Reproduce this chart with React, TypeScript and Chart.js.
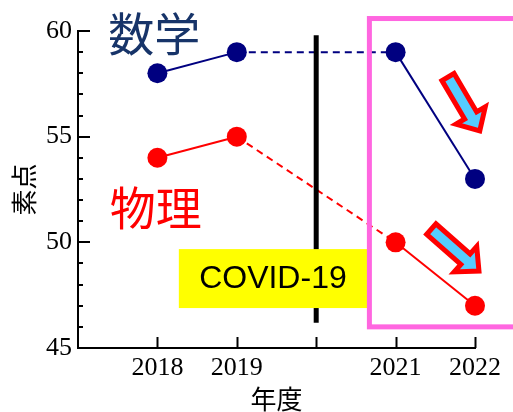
import React, { useEffect, useRef } from "react";
import { Chart, registerables } from "chart.js";

Chart.register(...registerables);

// ---- data ----
const years = [2018, 2019, 2021, 2022];
const mathScores = [58, 59, 59, 53];
const physicsScores = [54, 55, 50, 47];
const xTickYears = [2018, 2019, 2020, 2021, 2022];
const hiddenTickYears = [2017, 2020];
const yRange = [45, 60];

const mathLabel = "数学";
const physicsLabel = "物理";
const covidLabel = "COVID-19";
const xTitle = "年度";
const yTitle = "素点";

// annotation anchors in data units
const mathLabelPos = [2017.96, 59.86];
const physicsLabelPos = [2017.98, 51.67];
const covidBox = [2018.27, 49.68, 2020.64, 46.89];
const covidLine = [2020, 59.8, 46.2];
const pinkBox = [2020.67, 60.59, 2023, 46.0];
const arrows = [
  [2021.66, 57.82, 2022.06, 55.27],
  [2021.45, 50.63, 2022.05, 48.64],
];

const NAVY = "#000080";
const RED = "#ff0000";

const decorPlugin = {
  id: "decor",
  afterDatasetsDraw(chart: any) {
    const { ctx, scales } = chart;
    const xs = scales.x;
    const ys = scales.y;
    const px = (v: number) => xs.getPixelForValue(v);
    const py = (v: number) => ys.getPixelForValue(v);
    ctx.save();

    // inward tick marks
    ctx.strokeStyle = "#000";
    ctx.lineWidth = 2;
    const ax = xs.left;
    for (let v = yRange[0]; v <= yRange[1]; v++) {
      const len = v % 5 === 0 ? 12 : 5;
      const y = Math.round(py(v));
      ctx.beginPath();
      ctx.moveTo(ax, y);
      ctx.lineTo(ax + len, y);
      ctx.stroke();
    }
    const ay = ys.bottom;
    xTickYears.forEach((v) => {
      const x = Math.round(px(v)) + 0.5;
      ctx.beginPath();
      ctx.moveTo(x, ay);
      ctx.lineTo(x, ay - 11);
      ctx.stroke();
    });

    // COVID vertical line
    ctx.lineWidth = 5;
    ctx.strokeStyle = "#000";
    ctx.beginPath();
    ctx.moveTo(px(covidLine[0]), py(covidLine[1]));
    ctx.lineTo(px(covidLine[0]), py(covidLine[2]));
    ctx.stroke();

    // COVID box
    const bx0 = px(covidBox[0]);
    const by0 = py(covidBox[1]);
    const bx1 = px(covidBox[2]);
    const by1 = py(covidBox[3]);
    ctx.fillStyle = "#ffff00";
    ctx.fillRect(bx0, by0, bx1 - bx0, by1 - by0);
    ctx.fillStyle = "#000";
    ctx.font = '32px "Liberation Sans", Arial, sans-serif';
    ctx.textAlign = "center";
    ctx.textBaseline = "middle";
    ctx.fillText(covidLabel, (bx0 + bx1) / 2, (by0 + by1) / 2 + 1);

    // pink box
    ctx.strokeStyle = "#ff66e0";
    ctx.lineWidth = 5;
    ctx.lineJoin = "miter";
    ctx.strokeRect(
      px(pinkBox[0]),
      py(pinkBox[1]),
      px(pinkBox[2]) - px(pinkBox[0]),
      py(pinkBox[3]) - py(pinkBox[1])
    );

    // arrows
    arrows.forEach((a) => {
      const tx = px(a[0]);
      const ty = py(a[1]);
      const ex = px(a[2]);
      const ey = py(a[3]);
      const dx = ex - tx;
      const dy = ey - ty;
      const L = Math.hypot(dx, dy);
      const ux = dx / L;
      const uy = dy / L;
      const nx = -uy;
      const ny = ux;
      const hl = 18;
      const hw = 17;
      const sw = 7;
      const bx = ex - ux * hl;
      const by = ey - uy * hl;
      ctx.beginPath();
      ctx.moveTo(tx + nx * sw, ty + ny * sw);
      ctx.lineTo(bx + nx * sw, by + ny * sw);
      ctx.lineTo(bx + nx * hw, by + ny * hw);
      ctx.lineTo(ex, ey);
      ctx.lineTo(bx - nx * hw, by - ny * hw);
      ctx.lineTo(bx - nx * sw, by - ny * sw);
      ctx.lineTo(tx - nx * sw, ty - ny * sw);
      ctx.closePath();
      ctx.fillStyle = "#55ccff";
      ctx.fill();
      ctx.strokeStyle = "#ff0000";
      ctx.lineWidth = 5;
      ctx.stroke();
    });

    // series labels
    ctx.font = '46px "Noto Sans CJK JP", sans-serif';
    ctx.textAlign = "center";
    ctx.textBaseline = "middle";
    ctx.fillStyle = "#173469";
    ctx.fillText(mathLabel, px(mathLabelPos[0]), py(mathLabelPos[1]));
    ctx.fillStyle = RED;
    ctx.fillText(physicsLabel, px(physicsLabelPos[0]), py(physicsLabelPos[1]));

    ctx.restore();
  },
};

export default function App() {
  const ref = useRef<HTMLCanvasElement | null>(null);
  useEffect(() => {
    if (!ref.current) return;
    const dashSeg = (c: any) => (c.p0DataIndex === 1 ? [7, 5] : undefined);
    const chart = new Chart(ref.current, {
      type: "line",
      data: {
        datasets: [
          {
            label: mathLabel,
            data: years.map((x, i) => ({ x, y: mathScores[i] })),
            borderColor: NAVY,
            backgroundColor: NAVY,
            borderWidth: 2,
            pointRadius: 10,
            pointBorderWidth: 0,
            pointBackgroundColor: NAVY,
            clip: false,
            segment: { borderDash: dashSeg },
          },
          {
            label: physicsLabel,
            data: years.map((x, i) => ({ x, y: physicsScores[i] })),
            borderColor: RED,
            backgroundColor: RED,
            borderWidth: 2,
            pointRadius: 10,
            pointBorderWidth: 0,
            pointBackgroundColor: RED,
            clip: false,
            segment: { borderDash: dashSeg },
          },
        ],
      },
      options: {
        animation: false,
        responsive: true,
        maintainAspectRatio: false,
        layout: { padding: { left: 0, top: 31, right: 38, bottom: 0 } },
        plugins: {
          legend: { display: false },
          tooltip: { enabled: false },
        },
        scales: {
          x: {
            type: "linear",
            min: 2017,
            max: 2022,
            grid: { display: false, drawTicks: false },
            border: { display: true, color: "#000", width: 2 },
            ticks: {
              stepSize: 1,
              autoSkip: false,
              maxRotation: 0,
              padding: 5,
              color: "#000",
              font: { family: '"Liberation Serif", "Times New Roman", serif', size: 26 },
              callback: (v: any) => (hiddenTickYears.includes(Number(v)) ? "" : String(v)),
            },
            title: {
              display: true,
              text: xTitle,
              color: "#000",
              font: { family: '"Noto Sans CJK JP", sans-serif', size: 26 },
              padding: { top: 0, bottom: -3 },
            },
            afterFit: (s: any) => {
              s.height = 64;
            },
          },
          y: {
            min: yRange[0],
            max: yRange[1],
            grid: { display: false, drawTicks: false },
            border: { display: true, color: "#000", width: 2 },
            ticks: {
              stepSize: 5,
              padding: 6,
              color: "#000",
              font: { family: '"Liberation Serif", "Times New Roman", serif', size: 26 },
            },
            title: {
              display: true,
              text: yTitle,
              color: "#000",
              font: { family: '"Noto Sans CJK JP", sans-serif', size: 26 },
              padding: { top: 9, bottom: 0 },
            },
            afterFit: (s: any) => {
              s.width = 78;
            },
          },
        },
      },
      plugins: [decorPlugin],
    });
    return () => chart.destroy();
  }, []);
  return (
    <div style={{ position: "fixed", left: 0, top: 0, width: 513, height: 412, background: "#fff" }}>
      <canvas ref={ref} />
    </div>
  );
}
